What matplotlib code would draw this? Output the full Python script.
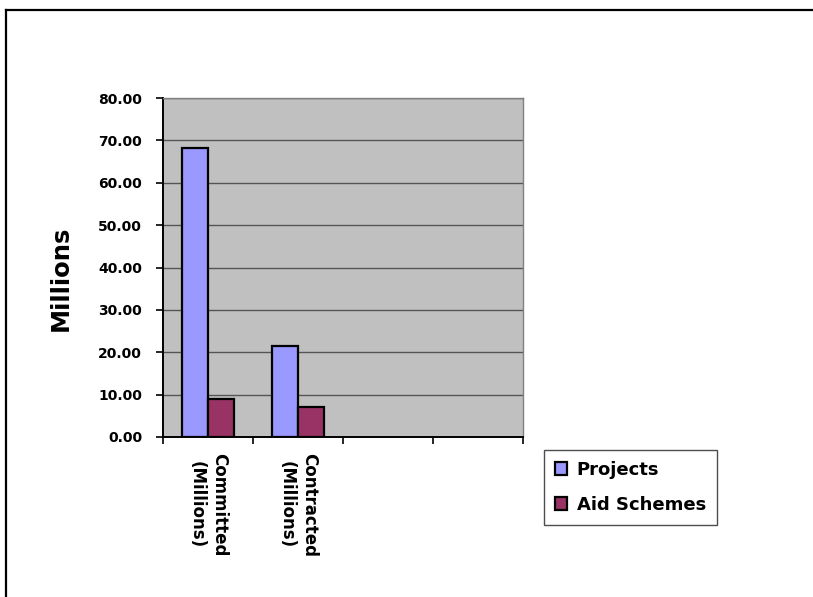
import matplotlib
matplotlib.use("Agg")
import matplotlib.pyplot as plt
from matplotlib.lines import Line2D
import numpy as np

plt.rcParams['font.family'] = ['DejaVu Sans']
plt.rcParams['font.weight'] = 'bold'

categories = ["Committed\n(Millions)", "Contracted\n(Millions)", "", ""]
projects = [68.3, 21.4, None, None]
aid_schemes = [8.9, 7.1, None, None]
series_names = ["Projects", "Aid Schemes"]
yticks = [0, 10, 20, 30, 40, 50, 60, 70, 80]

fig = plt.figure(figsize=(8.13, 5.97), dpi=100)
ax = fig.add_axes([163/813, 1-437/597, 360/813, 339/597])
ax.set_facecolor('#C0C0C0')

x = np.arange(len(categories))
w = 0.29
n = sum(v is not None for v in projects)
pv = [v for v in projects if v is not None]
av = [v for v in aid_schemes if v is not None]
b1 = ax.bar(x[:n] - w/2, pv, w, color='#9999FF', edgecolor='black', linewidth=1.6, label=series_names[0], zorder=3)
b2 = ax.bar(x[:n] + w/2, av, w, color='#993366', edgecolor='black', linewidth=1.6, label=series_names[1], zorder=3)

ax.set_xlim(-0.5, len(categories) - 0.5)
ax.set_ylim(0, 80)
ax.set_yticks(yticks)
ax.set_yticklabels([f"{v:.2f}" for v in yticks], fontsize=10, fontweight='bold')
ax.yaxis.grid(True, color='#555555', linewidth=1.0, zorder=1)
ax.set_axisbelow(True)

ax.set_xticks(x)
ax.set_xticklabels(categories, rotation=-90, ha='center', va='top', multialignment='center',
                   fontsize=12, fontweight='bold', linespacing=1.3)
ax.tick_params(axis='x', which='major', length=0, pad=11.5)
ax.set_xticks(np.arange(-0.5, len(categories), 1.0), minor=True)
ax.tick_params(axis='x', which='minor', length=5, width=1.2, color='black')
ax.tick_params(axis='y', length=5, width=1.2, color='black', pad=10)

for s in ['top', 'right']:
    ax.spines[s].set_color('#808080')
    ax.spines[s].set_linewidth(1.0)
for s in ['left', 'bottom']:
    ax.spines[s].set_color('black')
    ax.spines[s].set_linewidth(1.4)

ax.set_ylabel("Millions", fontsize=17.5, fontweight='bold')
ax.yaxis.set_label_coords(-0.252, 0.469)

leg = fig.legend(handles=[b1, b2], labels=series_names, loc='upper left',
                 bbox_to_anchor=(544/813, 1-450/597), fontsize=13,
                 frameon=True, fancybox=False, shadow=False, edgecolor='#202020',
                 handlelength=0.7, handleheight=0.7, handletextpad=0.5,
                 labelspacing=0.95, borderpad=0.6, borderaxespad=0)
leg.get_frame().set_linewidth(1.0)
for t in leg.get_texts():
    t.set_fontweight('bold')

fig.add_artist(Line2D([6/813, 6/813], [0, 1-10/597], transform=fig.transFigure, color='black', linewidth=1.6))
fig.add_artist(Line2D([6/813, 1], [1-10/597, 1-10/597], transform=fig.transFigure, color='black', linewidth=1.6))

fig.savefig("out.png", dpi=100)
